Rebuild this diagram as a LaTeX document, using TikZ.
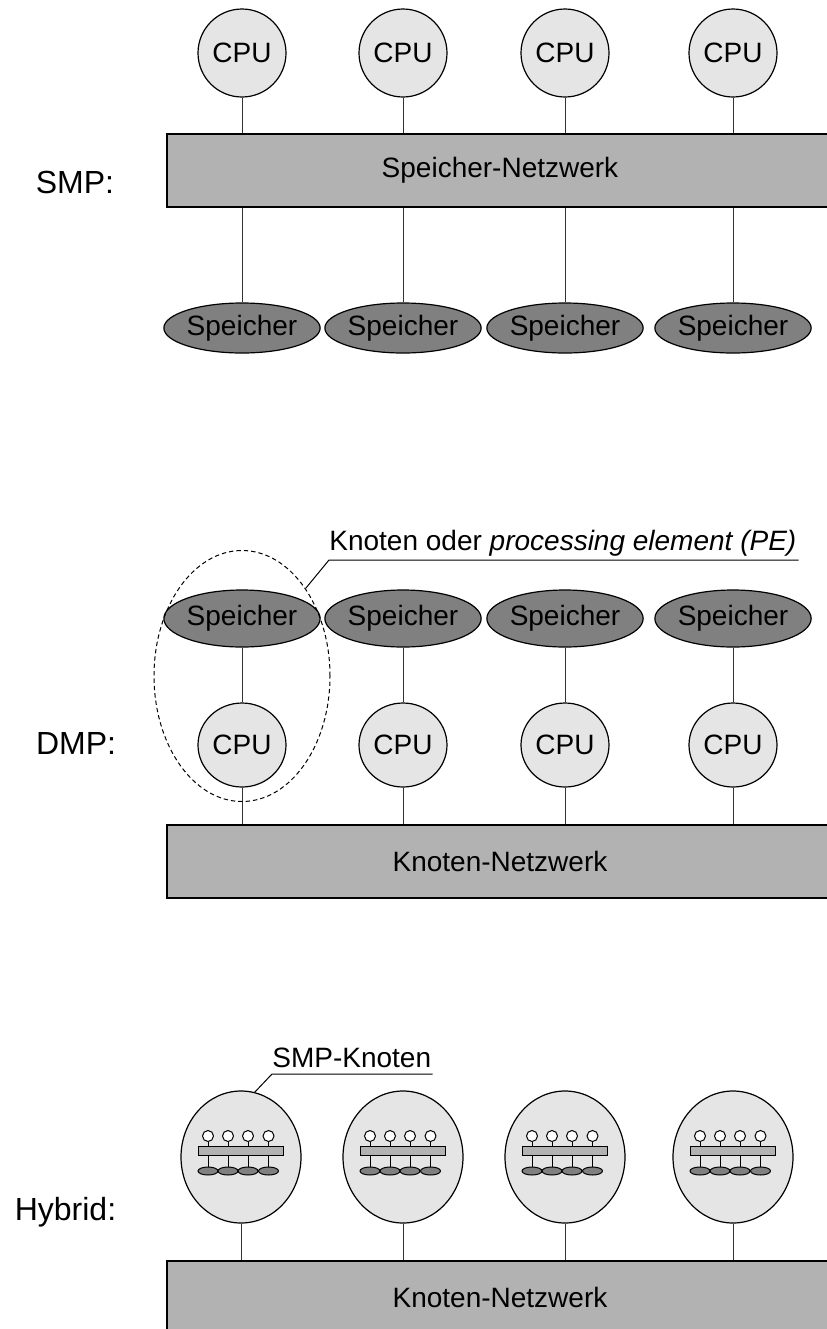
\documentclass[tikz,border=0pt]{standalone}
\usepackage{fontspec}
\setmainfont{Liberation Sans}
\usetikzlibrary{shapes}

\definecolor{cpufill}{gray}{0.9}
\definecolor{memfill}{gray}{0.5}
\definecolor{netfill}{gray}{0.7}

\begin{document}
\begin{tikzpicture}[x=0.5pt, y=-0.5pt,
    every node/.style={font=\fontsize{14}{17}\selectfont},
    cpu/.style={circle, draw, line width=0.6pt, fill=cpufill, minimum size=44pt, inner sep=0pt},
    mem/.style={ellipse, draw, line width=0.6pt, fill=memfill, minimum width=73pt, minimum height=25pt, inner sep=0pt},
    net/.style={rectangle, draw, line width=0.6pt, fill=netfill, minimum width=333pt, minimum height=36.5pt, inner sep=0pt},
    smpnode/.style={ellipse, draw, line width=0.6pt, fill=cpufill, minimum width=60pt, minimum height=66pt, inner sep=0pt},
    minicpu/.style={circle, draw, line width=0.5pt, fill=white, minimum size=5.5pt, inner sep=0pt},
    minimem/.style={ellipse, draw, line width=0.5pt, fill=memfill, minimum width=10pt, minimum height=4pt, inner sep=0pt},
    minibar/.style={rectangle, draw, line width=0.5pt, fill=netfill, minimum width=42.5pt, minimum height=4.5pt, inner sep=0pt},
    link/.style={draw, line width=0.5pt, black!80},
    tag/.style={inner sep=0pt},
    rowlabel/.style={inner sep=0pt, anchor=base, font=\fontsize{16}{19}\selectfont}]

  \useasboundingbox (0,0) rectangle (826,1329);

  % SMP
  \node[rowlabel] (lsmp) at (75,193) {SMP:};
  \node[net] (smpnet) at (500,170.5) {Speicher-Netzwerk};
  \foreach \x [count=\i] in {242,403,565,733} {
    \node[cpu] (cpu\i) at (\x,53) {CPU};
    \node[mem] (mem\i) at (\x,328) {Speicher};
    \draw[link] (cpu\i) -- (cpu\i |- smpnet.north);
    \draw[link] (mem\i |- smpnet.south) -- (mem\i);
  }

  % DMP
  \node[rowlabel] (ldmp) at (76,754) {DMP:};
  \node[net] (dmpnet) at (500,861.5) {Knoten-Netzwerk};
  \foreach \x [count=\i] in {242,403,565,733} {
    \node[mem, minimum height=28.5pt] (dmem\i) at (\x,618.5) {Speicher};
    \node[cpu, ellipse, minimum width=44pt, minimum height=42pt] (dcpu\i) at (\x,745) {CPU};
    \draw[link] (dmem\i) -- (dcpu\i);
    \draw[link] (dcpu\i) -- (dcpu\i |- dmpnet.north);
  }
  \node[ellipse, draw, line width=0.5pt, dash pattern=on 2.2pt off 1.5pt,
        minimum width=88pt, minimum height=125.5pt, inner sep=0pt] (pe) at (242,676) {};
  \node[tag, anchor=base west] (lpe) at (329,550) {Knoten oder \textit{processing element (PE)}};
  \draw[line width=0.5pt] (pe.54) -- ([yshift=-5pt]lpe.base west) -- ([xshift=1pt,yshift=-5pt]lpe.base east);

  % Hybrid
  \node[rowlabel] (lhyb) at (65.5,1220) {Hybrid:};
  \node[net] (hybnet) at (500,1297.5) {Knoten-Netzwerk};
  \foreach \x [count=\i] in {241,403,565,733} {
    \node[smpnode] (hy\i) at (\x,1157) {};
    \draw[link] (hy\i) -- (hy\i |- hybnet.north);
    % kleines SMP im Knoten
    \node[minibar] (hy\i-bar) at ([shift={(-0.5,-6.5)}]hy\i.center) {};
    \foreach \dx [count=\k] in {-33,-13,7,27.5} {
      \node[minicpu] (hy\i-c\k) at ([shift={(\dx,-21)}]hy\i.center) {};
      \node[minimem] (hy\i-m\k) at ([shift={(\dx,14)}]hy\i.center) {};
      \draw[line width=0.5pt] (hy\i-c\k) -- (hy\i-c\k |- hy\i-bar.north);
      \draw[line width=0.5pt] (hy\i-c\k |- hy\i-bar.south) -- (hy\i-m\k);
    }
  }
  \node[tag, anchor=base west] (lsmpk) at (272,1067) {SMP-Knoten};
  \draw[line width=0.5pt] (hy1.78) -- ([yshift=-3.5pt]lsmpk.base west) -- ([xshift=0.5pt,yshift=-3.5pt]lsmpk.base east);

\end{tikzpicture}
\end{document}
